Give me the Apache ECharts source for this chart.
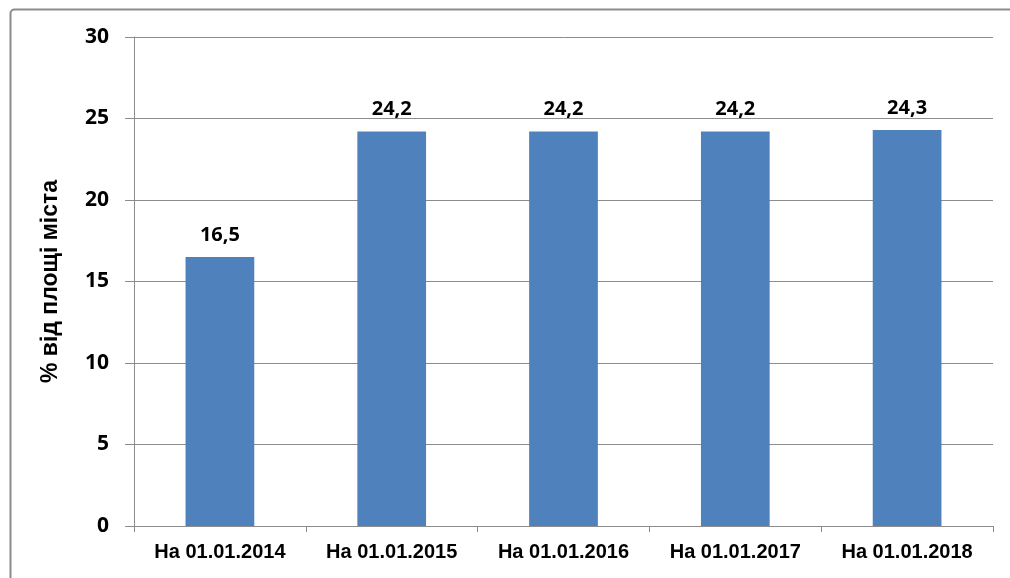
<!DOCTYPE html>
<html>
<head>
<meta charset="utf-8">
<script src="https://cdn.jsdelivr.net/npm/echarts@6/dist/echarts.min.js"></script>
<style>html,body{margin:0;padding:0;background:#fff}#c{width:1010px;height:578px}</style>
</head>
<body>
<div id="c"></div>
<script>
var categories = ['На 01.01.2014', 'На 01.01.2015', 'На 01.01.2016', 'На 01.01.2017', 'На 01.01.2018'];
var values = [16.5, 24.2, 24.2, 24.2, 24.3];
var yTicks = [0, 5, 10, 15, 20, 25, 30];
var yTitle = '% від площі міста';

var chart = echarts.init(document.getElementById('c'));
chart.setOption({
  animation: false,
  backgroundColor: '#fff',
  graphic: [{
    type: 'rect', left: 8, top: 7,
    shape: { width: 1100, height: 700, r: 4 },
    style: { fill: 'none', stroke: '#8c8c8c', lineWidth: 2 },
    z: 100
  }],
  grid: { left: 134, right: 17, top: 37, bottom: 52 },
  xAxis: {
    type: 'category',
    data: categories,
    axisLine: { lineStyle: { color: '#8c8c8c', width: 1 } },
    axisTick: { show: true, interval: 0, length: 6, lineStyle: { color: '#8c8c8c' } },
    axisLabel: { interval: 0, hideOverlap: false, color: '#000', fontFamily: 'Liberation Sans', fontWeight: 'bold', fontSize: 20, margin: 16 }
  },
  yAxis: {
    type: 'value',
    min: yTicks[0], max: yTicks[yTicks.length - 1], interval: 5,
    name: yTitle,
    nameLocation: 'middle',
    nameGap: 72,
    nameRotate: 90,
    nameTextStyle: { color: '#000', fontFamily: 'Liberation Sans', fontWeight: 'bold', fontSize: 23 },
    axisLine: { show: true, lineStyle: { color: '#8c8c8c', width: 1 } },
    axisTick: { show: true, length: 9, lineStyle: { color: '#8c8c8c' } },
    splitLine: { lineStyle: { color: '#8c8c8c', width: 1 } },
    axisLabel: { color: '#000', fontFamily: 'Open Sans', fontWeight: 'bold', fontSize: 21, margin: 25 }
  },
  series: [{
    type: 'bar',
    data: values,
    barWidth: '40%',
    itemStyle: { color: '#4F81BD' },
    label: {
      show: true, position: 'top', distance: 12,
      color: '#000', fontFamily: 'Open Sans', fontWeight: 'bold', fontSize: 20,
      formatter: function (p) { return String(p.value.toFixed(1)).replace('.', ','); }
    }
  }]
});
</script>
</body>
</html>
